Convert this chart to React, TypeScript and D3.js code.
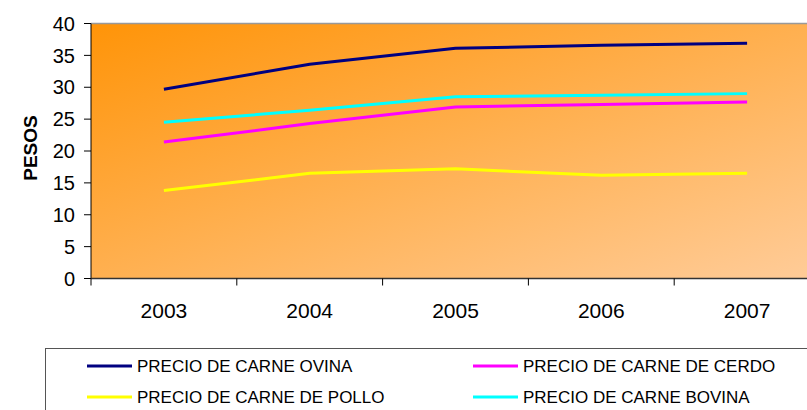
import React from 'react';
import * as d3 from 'd3';

const YEARS = ['2003', '2004', '2005', '2006', '2007'];
const OVINA = [29.7, 33.6, 36.1, 36.6, 36.9];
const CERDO = [21.4, 24.3, 26.9, 27.3, 27.7];
const POLLO = [13.8, 16.5, 17.2, 16.2, 16.5];
const BOVINA = [24.5, 26.4, 28.5, 28.75, 29.0];
const Y_TICKS = [0, 5, 10, 15, 20, 25, 30, 35, 40];

const SERIES = [
  { name: 'PRECIO DE CARNE OVINA', values: OVINA, color: '#000080' },
  { name: 'PRECIO DE CARNE DE CERDO', values: CERDO, color: '#FF00FF' },
  { name: 'PRECIO DE CARNE DE POLLO', values: POLLO, color: '#FFFF00' },
  { name: 'PRECIO DE CARNE BOVINA', values: BOVINA, color: '#00FFFF' },
];

const W = 807;
const H = 410;

const App: React.FC = () => {
  const left = 91;
  const top = 23.5;
  const bottom = 278.5;

  const x = d3.scaleBand<string>().domain(YEARS).range([left, 820]);
  const y = d3.scaleLinear().domain([0, 40]).range([bottom, top]);
  const cx = (d: string) => (x(d) ?? 0) + x.bandwidth() / 2;

  const line = d3
    .line<number>()
    .x((_, i) => cx(YEARS[i]))
    .y((v) => y(v));

  // x tick boundaries between categories
  const xTicks = YEARS.map((d) => x(d) ?? 0).concat([(x(YEARS[4]) ?? 0) + x.bandwidth()]);

  return (
    <div style={{ position: 'fixed', left: 0, top: 0 }}>
      <svg width={W} height={H} style={{ display: 'block', fontFamily: 'Arial, "Liberation Sans", sans-serif' }}>
        <defs>
          <linearGradient id="bg" x1="0" y1="0" x2="1" y2="1">
            <stop offset="0" stopColor="#FF9408" />
            <stop offset="1" stopColor="#FFCC99" />
          </linearGradient>
        </defs>
        <rect width={W} height={H} fill="#fff" />
        <rect x={left} y={top} width={820 - left} height={bottom - top} fill="url(#bg)" />
        <line x1={left} x2={W} y1={top} y2={top} stroke="#999" strokeWidth={1.5} />

        {/* y axis */}
        <line x1={left} x2={left} y1={top} y2={bottom} stroke="#000" strokeWidth={1} />
        {Y_TICKS.map((t) => (
          <g key={t}>
            <line x1={left - 7} x2={left} y1={y(t)} y2={y(t)} stroke="#000" />
            <text x={75} y={y(t)} dy="0.36em" textAnchor="end" fontSize={20} fill="#000">
              {t}
            </text>
          </g>
        ))}
        <text
          transform={`translate(37,${(top + bottom) / 2 - 3}) rotate(-90)`}
          textAnchor="middle"
          fontSize={19}
          fontWeight="bold"
          fill="#000"
        >
          PESOS
        </text>

        {/* x axis */}
        <line x1={left} x2={W} y1={bottom} y2={bottom} stroke="#333" strokeWidth={1.5} />
        {xTicks.map((t, i) => (
          <line key={i} x1={t} x2={t} y1={bottom} y2={bottom + 7} stroke="#000" />
        ))}
        {YEARS.map((d) => (
          <text key={d} x={cx(d)} y={310} dy="0.36em" textAnchor="middle" fontSize={21} fill="#000">
            {d}
          </text>
        ))}

        {/* series */}
        {SERIES.map((s) => (
          <path key={s.name} d={line(s.values) ?? ''} fill="none" stroke={s.color} strokeWidth={3} strokeLinejoin="round" />
        ))}

        {/* legend */}
        <rect x={45.5} y={348.5} width={W} height={80} fill="#fff" stroke="#555" strokeWidth={1} />
        {SERIES.map((s, i) => {
          const col = i % 2;
          const row = Math.floor(i / 2);
          const lx = col === 0 ? 87 : 473;
          const ly = row === 0 ? 366 : 397;
          return (
            <g key={s.name}>
              <line x1={lx} x2={lx + 45} y1={ly} y2={ly} stroke={s.color} strokeWidth={3} />
              <text x={lx + 50} y={ly} dy="0.36em" fontSize={17} fill="#000">
                {s.name}
              </text>
            </g>
          );
        })}
      </svg>
    </div>
  );
};

export default App;
